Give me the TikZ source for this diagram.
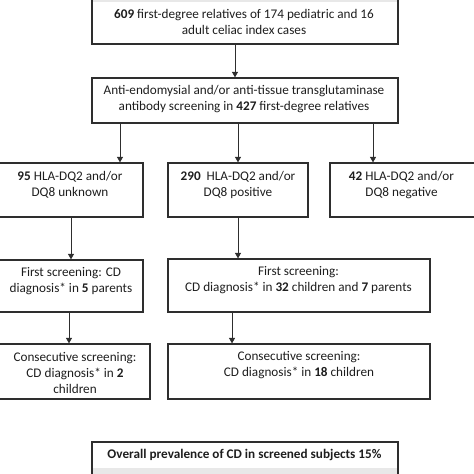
\documentclass[tikz,border=0pt]{standalone}
\usepackage{fontspec}
\setmainfont{Carlito}
\usetikzlibrary{arrows.meta}
\definecolor{ink}{HTML}{1E1E1E}
\definecolor{edge}{HTML}{2E2E2E}
\tikzset{
  box/.style={draw=edge, line width=1.2pt, inner sep=0pt, rectangle},
  txt/.style={text=ink, align=center, inner sep=0pt, font=\fontsize{13.2}{16}\selectfont},
  arr/.style={draw=edge, line width=0.9pt, -{Triangle[length=5.5pt,width=6pt]}}
}
\begin{document}
\begin{tikzpicture}[x=1pt,y=-1pt]
\useasboundingbox (0,0) rectangle (474,474);
\begin{scope}
\clip (0,0) rectangle (474,474);
% faint shaded strips at top and bottom
\fill[gray!18] (92,-2) rectangle (398,2);
\fill[gray!18] (92,468) rectangle (398,476);
% boxes
\node[box, minimum width=306pt, minimum height=47pt] (b1) at (245,20.5) {};
\node[box, minimum width=306pt, minimum height=45pt] (b2) at (245,100.5) {};
\node[box, minimum width=146pt, minimum height=54pt] (b3a) at (70,190) {};
\node[box, minimum width=140pt, minimum height=54pt] (b3b) at (238,190) {};
\node[box, minimum width=146pt, minimum height=54pt] (b3c) at (403,190) {};
\node[box, minimum width=146pt, minimum height=52pt] (b4a) at (70,286) {};
\node[box, minimum width=262pt, minimum height=53pt] (b4b) at (299,285.5) {};
\node[box, minimum width=153pt, minimum height=55pt] (b5a) at (73.5,371.5) {};
\node[box, minimum width=262pt, minimum height=55pt] (b5b) at (299,371.5) {};
\node[box, minimum width=306pt, minimum height=36pt] (b6) at (245,460) {};
% texts
\node[txt] (t1) at (244,22) {\textbf{609} first-degree relatives of 174 pediatric and 16\\adult celiac index cases};
\node[txt] (t2) at (244,99.5) {Anti-endomysial and/or anti-tissue transglutaminase\\antibody screening in \textbf{427} first-degree relatives};
\node[txt] (t3a) at (70,185) {\textbf{95} HLA-DQ2 and/or\\DQ8 unknown};
\node[txt] (t3b) at (238,185) {\textbf{290}\ \ HLA-DQ2 and/or\\DQ8 positive};
\node[txt] (t3c) at (401.5,185) {\textbf{42} HLA-DQ2 and/or\\DQ8 negative};
\node[txt] (t4a) at (71,281.5) {First screening: CD\\diagnosis* in \textbf{5} parents};
\node[txt] (t4b) at (298.5,280.5) {First screening:\\CD diagnosis* in \textbf{32} children and \textbf{7} parents};
\node[txt] (t5a) at (75,373) {Consecutive screening:\\CD diagnosis* in \textbf{2}\\children};
\node[txt] (t5b) at (299,365) {Consecutive screening:\\CD diagnosis* in \textbf{18} children};
\node[txt, font=\fontsize{13.2}{16}\selectfont\bfseries] (t6) at (244.5,455) {Overall prevalence of CD in screened subjects 15\%};
% connectors
\draw[arr] ([xshift=-10pt]b1.south) -- ([xshift=-10pt]b2.north);
\draw[arr] ([xshift=-125pt]b2.south) -- ([xshift=50pt]b3a.north);
\draw[arr] ([xshift=-7pt]b2.south) -- (b3b.north);
\draw[arr] ([xshift=128pt]b2.south) -- ([xshift=-30pt]b3c.north);
\draw[arr] ([xshift=1pt]b3a.south) -- ([xshift=1pt]b4a.north);
\draw[arr] (b3b.south) -- ([xshift=-61pt]b4b.north);
\draw[arr] ([xshift=-1pt]b4a.south) -- ([xshift=-4.5pt]b5a.north);
\draw[arr] ([xshift=-67pt]b4b.south) -- ([xshift=-67pt]b5b.north);
\end{scope}
\end{tikzpicture}
\end{document}
